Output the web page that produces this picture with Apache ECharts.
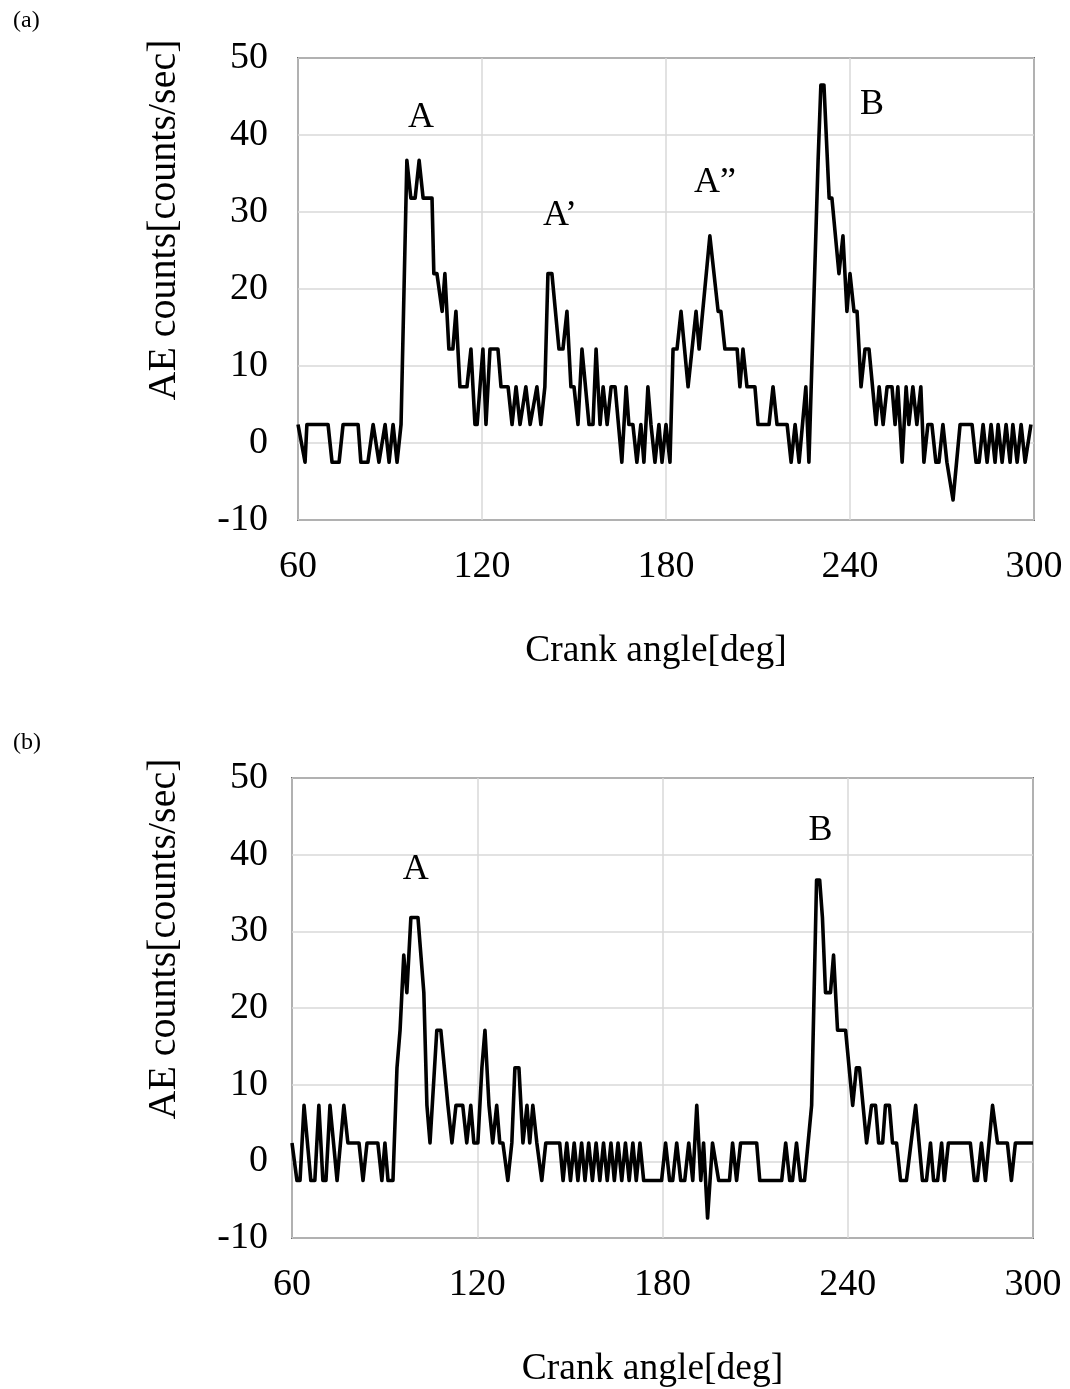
<!DOCTYPE html>
<html>
<head>
<meta charset="utf-8">
<script src="https://cdn.jsdelivr.net/npm/echarts@6/dist/echarts.min.js"></script>
<style>
  body { margin: 0; background: #fff; }
  #chart { width: 1070px; height: 1389px; }
</style>
</head>
<body>
<div id="chart"></div>
<script>
// crank angle [deg] / AE counts (vertices of each polyline)
var angleA = [60, 62.3, 62.9, 69.8, 71.1, 73.4, 74.7, 79.6, 80.5, 82.8, 84.5, 86.4, 88.4, 89.7, 91.0, 92.3, 93.6, 95.5, 96.8, 98.2,
  99.5, 100.8, 103.7, 104.3, 105.3, 107.0, 107.9, 109.2, 110.5, 111.5, 112.8, 115.1, 116.4, 117.7, 118.4, 120.3, 121.3, 122.6, 125.2, 126.2,
  128.5, 129.8, 131.1, 132.4, 134.3, 135.7, 137.9, 139.2, 140.5, 141.5, 142.8, 145.1, 146.4, 147.7, 149.0, 150.0, 151.3, 152.6, 154.9, 156.2,
  157.2, 158.5, 159.5, 160.8, 162.1, 163.4, 165.6, 167.0, 167.9, 169.2, 170.5, 171.8, 172.8, 174.1, 175.1, 176.4, 177.7, 178.7, 180.0, 181.3,
  182.3, 183.6, 184.9, 187.2, 189.8, 190.8, 194.3, 197.0, 197.9, 199.2, 203.2, 204.1, 205.1, 206.4, 209.0, 210.0, 213.6, 214.9, 216.2, 219.5,
  220.8, 222.1, 223.4, 225.6, 226.6, 229.6, 230.5, 231.5, 233.2, 234.1, 236.4, 237.7, 239.0, 240.0, 241.3, 242.3, 243.6, 244.9, 246.2, 248.5,
  249.5, 250.8, 252.1, 253.7, 254.7, 255.6, 257.0, 258.3, 259.2, 260.5, 261.8, 263.1, 264.1, 265.4, 266.7, 268.0, 269.0, 270.3, 271.6, 273.6,
  275.9, 279.8, 281.1, 282.1, 283.4, 284.7, 286.0, 287.3, 288.3, 289.6, 290.9, 292.2, 293.1, 294.5, 295.8, 297.1, 299.0];
var countA = [2.4, -2.5, 2.4, 2.4, -2.5, -2.5, 2.4, 2.4, -2.5, -2.5, 2.4, -2.5, 2.4, -2.5, 2.4, -2.5, 2.4, 36.7, 31.8, 31.8,
  36.7, 31.8, 31.8, 22, 22, 17.1, 22, 12.2, 12.2, 17.1, 7.3, 7.3, 12.2, 2.4, 2.4, 12.2, 2.4, 12.2, 12.2, 7.3,
  7.3, 2.4, 7.3, 2.4, 7.3, 2.4, 7.3, 2.4, 7.3, 22, 22, 12.2, 12.2, 17.1, 7.3, 7.3, 2.4, 12.2, 2.4, 2.4,
  12.2, 2.4, 7.3, 2.4, 7.3, 7.3, -2.5, 7.3, 2.4, 2.4, -2.5, 2.4, -2.5, 7.3, 2.4, -2.5, 2.4, -2.5, 2.4, -2.5,
  12.2, 12.2, 17.1, 7.3, 17.1, 12.2, 26.9, 17.1, 17.1, 12.2, 12.2, 7.3, 12.2, 7.3, 7.3, 2.4, 2.4, 7.3, 2.4, 2.4,
  -2.5, 2.4, -2.5, 7.3, -2.5, 36.7, 46.5, 46.5, 31.8, 31.8, 22, 26.9, 17.1, 22, 17.1, 17.1, 7.3, 12.2, 12.2, 2.4,
  7.3, 2.4, 7.3, 7.3, 2.4, 7.3, -2.5, 7.3, 2.4, 7.3, 2.4, 7.3, -2.5, 2.4, 2.4, -2.5, -2.5, 2.4, -2.5, -7.4,
  2.4, 2.4, -2.5, -2.5, 2.4, -2.5, 2.4, -2.5, 2.4, -2.5, 2.4, -2.5, 2.4, -2.5, 2.4, -2.5, 2.4];

var angleB = [60, 61.6, 62.6, 63.9, 66.1, 67.4, 68.7, 70.0, 71.0, 72.3, 74.6, 76.8, 78.1, 81.7, 83.0, 84.3, 87.8, 89.1, 90.1, 91.1,
  92.7, 94.0, 95.0, 96.2, 97.2, 98.5, 100.8, 102.7, 103.7, 104.7, 106.9, 108.2, 110.5, 111.8, 113.1, 115.3, 116.6, 117.9, 118.9, 120.2,
  121.5, 122.5, 123.8, 125.0, 126.3, 127.3, 128.3, 129.9, 131.2, 132.2, 133.5, 134.8, 136.1, 137.0, 138.0, 139.3, 140.9, 142.2, 146.7, 147.8,
  149.0, 150.2, 151.4, 152.6, 153.8, 154.9, 156.1, 157.3, 158.5, 159.7, 160.9, 162.1, 163.3, 164.4, 165.6, 166.8, 168.0, 169.2, 170.4, 171.5,
  172.7, 173.9, 179.7, 181.0, 182.3, 183.3, 184.6, 185.9, 187.2, 188.5, 189.8, 191.1, 192.4, 193.3, 194.6, 196.2, 198.2, 201.7, 202.7, 204.0,
  205.3, 210.5, 211.5, 218.6, 219.9, 221.2, 222.1, 223.4, 224.7, 226.0, 228.3, 229.9, 230.9, 231.8, 232.8, 234.4, 235.4, 236.7, 239.3, 241.6,
  242.8, 243.8, 246.1, 247.7, 249.0, 250.0, 251.3, 252.2, 253.5, 254.5, 255.8, 257.1, 259.0, 262.0, 264.2, 265.5, 266.8, 267.8, 269.1, 270.4,
  271.3, 272.6, 279.7, 281.0, 282.0, 283.3, 284.6, 286.9, 288.5, 291.7, 293.0, 294.3, 300];
var countB = [2.4, -2.5, -2.5, 7.3, -2.5, -2.5, 7.3, -2.5, -2.5, 7.3, -2.5, 7.3, 2.4, 2.4, -2.5, 2.4, 2.4, -2.5, 2.4, -2.5,
  -2.5, 12.2, 17.1, 26.9, 22, 31.8, 31.8, 22, 7.3, 2.4, 17.1, 17.1, 7.3, 2.4, 7.3, 7.3, 2.4, 7.3, 2.4, 2.4,
  12.2, 17.1, 7.3, 2.4, 7.3, 2.4, 2.4, -2.5, 2.4, 12.2, 12.2, 2.4, 7.3, 2.4, 7.3, 2.4, -2.5, 2.4, 2.4, -2.5,
  2.4, -2.5, 2.4, -2.5, 2.4, -2.5, 2.4, -2.5, 2.4, -2.5, 2.4, -2.5, 2.4, -2.5, 2.4, -2.5, 2.4, -2.5, 2.4, -2.5,
  2.4, -2.5, -2.5, 2.4, -2.5, -2.5, 2.4, -2.5, -2.5, 2.4, -2.5, 7.3, -2.5, 2.4, -7.4, 2.4, -2.5, -2.5, 2.4, -2.5,
  2.4, 2.4, -2.5, -2.5, 2.4, -2.5, -2.5, 2.4, -2.5, -2.5, 7.3, 36.7, 36.7, 31.8, 22, 22, 26.9, 17.1, 17.1, 7.3,
  12.2, 12.2, 2.4, 7.3, 7.3, 2.4, 2.4, 7.3, 7.3, 2.4, 2.4, -2.5, -2.5, 7.3, -2.5, -2.5, 2.4, -2.5, -2.5, 2.4,
  -2.5, 2.4, 2.4, -2.5, -2.5, 2.4, -2.5, 7.3, 2.4, 2.4, -2.5, 2.4, 2.4];

var xTicks = [60, 120, 180, 240, 300];
var yTicks = [-10, 0, 10, 20, 30, 40, 50];

// peak labels, placed in data coordinates
var peaksA = [['A', 100.1, 42.3], ['A\u2019', 145.4, 29.6], ['A\u201D', 196.0, 33.8], ['B', 247.2, 43.9]];
var peaksB = [['A', 100.1, 38.1], ['B', 231.2, 43.2]];

var font = '"Liberation Serif", "Times New Roman", serif';

function pairs(xs, ys) {
  return xs.map(function (x, i) { return [x, ys[i]]; });
}

function peakMarks(list) {
  return {
    symbol: 'circle',
    symbolSize: 0,
    label: { show: true, position: 'inside', color: '#000', fontFamily: font, fontSize: 36, formatter: '{b}' },
    data: list.map(function (p) { return { name: p[0], coord: [p[1], p[2]] }; })
  };
}

function xAxisFor(gridIndex) {
  return {
    gridIndex: gridIndex,
    type: 'value',
    min: xTicks[0],
    max: xTicks[xTicks.length - 1],
    interval: 60,
    name: 'Crank angle[deg]',
    nameLocation: 'middle',
    nameGap: 112,
    nameTextStyle: { color: '#000', fontFamily: font, fontSize: 37.5, padding: [0, 20, 0, 0] },
    axisLine: { show: false },
    axisTick: { show: false },
    axisLabel: { color: '#000', fontFamily: font, fontSize: 38, margin: 28 },
    splitLine: { show: true, lineStyle: { color: '#d9d9d9', width: 1.5 } }
  };
}

function yAxisFor(gridIndex, labelMargin, nameGap) {
  return {
    gridIndex: gridIndex,
    type: 'value',
    min: yTicks[0],
    max: yTicks[yTicks.length - 1],
    interval: 10,
    name: 'AE counts[counts/sec]',
    nameLocation: 'middle',
    nameGap: nameGap,
    nameTextStyle: { color: '#000', fontFamily: font, fontSize: 40, padding: [0, 0, 0, 138] },
    axisLine: { show: false },
    axisTick: { show: false },
    axisLabel: { color: '#000', fontFamily: font, fontSize: 38, margin: labelMargin },
    splitLine: { show: true, lineStyle: { color: '#d9d9d9', width: 1.5 } }
  };
}

var chart = echarts.init(document.getElementById('chart'), null, { renderer: 'canvas' });

var option = {
  backgroundColor: '#fff',
  animation: false,
  title: [
    { text: '(a)', left: 8, top: 4, textStyle: { color: '#000', fontFamily: font, fontSize: 24, fontWeight: 'normal' } },
    { text: '(b)', left: 8, top: 726, textStyle: { color: '#000', fontFamily: font, fontSize: 24, fontWeight: 'normal' } }
  ],
  grid: [
    { left: 298, right: 36, top: 58, height: 462, show: true, borderColor: '#000', borderWidth: 1.5 },
    { left: 292, right: 37, top: 778, height: 462, show: true, borderColor: '#000', borderWidth: 1.5 }
  ],
  xAxis: [xAxisFor(0), xAxisFor(1)],
  yAxis: [yAxisFor(0, 30, 114), yAxisFor(1, 24, 108)],
  series: [
    {
      type: 'line',
      xAxisIndex: 0,
      yAxisIndex: 0,
      data: pairs(angleA, countA),
      showSymbol: false,
      symbol: 'none',
      lineStyle: { color: '#000', width: 3.6, join: 'round' },
      markPoint: peakMarks(peaksA)
    },
    {
      type: 'line',
      xAxisIndex: 1,
      yAxisIndex: 1,
      data: pairs(angleB, countB),
      showSymbol: false,
      symbol: 'none',
      lineStyle: { color: '#000', width: 3.6, join: 'round' },
      markPoint: peakMarks(peaksB)
    }
  ]
};

chart.setOption(option);
</script>
</body>
</html>
